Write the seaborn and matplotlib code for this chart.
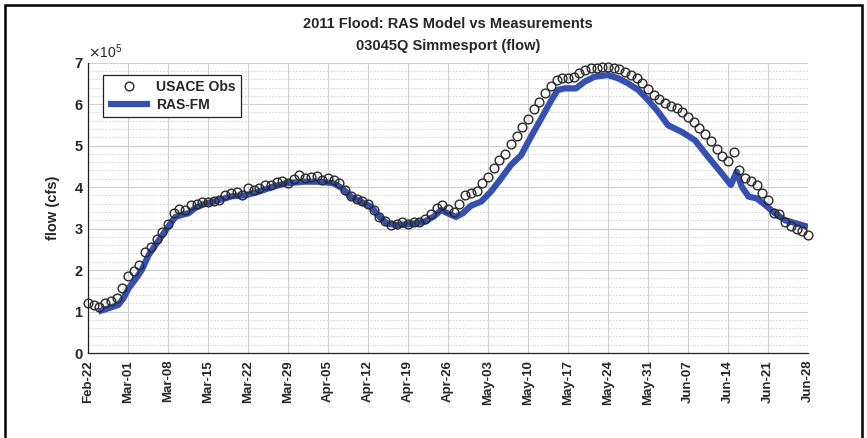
import numpy as np
import pandas as pd
import matplotlib
matplotlib.use("Agg")
import matplotlib.pyplot as plt
import matplotlib.dates as mdates
import matplotlib.ticker as mticker
import seaborn as sns

# flow in units of 1e5 cfs
start_date = "2011-02-22"
end_date = "2011-06-28"

# USACE observations, one per day from Feb-22
obs_flow = [
    1.21, 1.16, 1.12, 1.20, 1.26, 1.32, 1.56, 1.86, 1.98, 2.12,
    2.44, 2.55, 2.76, 2.92, 3.11, 3.38, 3.46, 3.45, 3.57, 3.60,
    3.65, 3.65, 3.67, 3.70, 3.80, 3.85, 3.87, 3.82, 3.97, 3.92,
    3.97, 4.04, 4.06, 4.12, 4.14, 4.10, 4.20, 4.29, 4.23, 4.25,
    4.27, 4.18, 4.23, 4.18, 4.10, 3.93, 3.78, 3.71, 3.67, 3.60,
    3.45, 3.28, 3.19, 3.08, 3.10, 3.16, 3.12, 3.17, 3.16, 3.22,
    3.36, 3.50, 3.57, 3.46, 3.40, 3.60, 3.80, 3.86, 3.90, 4.10,
    4.25, 4.45, 4.65, 4.80, 5.05, 5.22, 5.45, 5.65, 5.88, 6.06,
    6.26, 6.44, 6.58, 6.62, 6.63, 6.66, 6.76, 6.83, 6.86, 6.88,
    6.89, 6.89, 6.87, 6.84, 6.78, 6.71, 6.62, 6.52, 6.36, 6.23,
    6.12, 6.02, 5.96, 5.90, 5.80, 5.69, 5.57, 5.42, 5.29, 5.10,
    4.92, 4.76, 4.63, 4.84, 4.40, 4.22, 4.15, 4.05, 3.86, 3.70,
    3.38, 3.34, 3.15, 3.05, 2.98, 2.94, 2.84,
]

# RAS-FM model, days since Feb-22
model_day = [
    1.8, 3.6, 5.3, 6.2, 7.1, 8.2, 9.4, 10.6, 11.8, 13.2,
    14.4, 15.3, 16.4, 17.6, 18.8, 20.5, 22.8, 25.2, 27.5, 29.9,
    32.2, 34.6, 37.7, 40.7, 43.0, 44.5, 46.0, 47.7, 49.5, 51.2,
    52.4, 54.2, 56.5, 58.8, 60.6, 61.8, 62.9, 64.4, 65.6, 67.0,
    68.8, 70.5, 72.3, 74.0, 75.8, 77.5, 79.3, 81.1, 82.2, 83.4,
    85.4, 86.9, 88.6, 91.0, 92.8, 94.5, 96.3, 98.0, 99.8, 101.5,
    103.9, 106.2, 108.5, 110.9, 112.5, 113.5, 114.4, 115.6, 117.0, 118.5,
    120.2, 122.0, 124.3, 126.0,
]
model_flow = [
    1.00, 1.08, 1.16, 1.32, 1.56, 1.76, 2.00, 2.36, 2.60, 2.88,
    3.12, 3.28, 3.33, 3.37, 3.50, 3.60, 3.68, 3.78, 3.80, 3.89,
    4.00, 4.09, 4.13, 4.13, 4.09, 3.97, 3.77, 3.65, 3.53, 3.25,
    3.12, 3.08, 3.11, 3.16, 3.30, 3.45, 3.37, 3.28, 3.37, 3.55,
    3.65, 3.89, 4.21, 4.53, 4.77, 5.21, 5.65, 6.10, 6.34, 6.38,
    6.38, 6.54, 6.66, 6.70, 6.62, 6.50, 6.34, 6.10, 5.81, 5.49,
    5.33, 5.13, 4.73, 4.33, 4.05, 4.37, 4.01, 3.77, 3.73, 3.57,
    3.37, 3.20, 3.11, 3.04,
]

t0 = pd.Timestamp(start_date)
obs = pd.DataFrame({
    "date": pd.date_range(start_date, periods=len(obs_flow), freq="D"),
    "flow": np.array(obs_flow) * 1e5,
})
model = pd.DataFrame({
    "date": t0 + pd.to_timedelta(model_day, unit="D"),
    "flow": np.array(model_flow) * 1e5,
})

sns.set_style("white")
plt.rcParams["font.family"] = ["Liberation Sans", "DejaVu Sans"]

fig = plt.figure(figsize=(8.67, 4.38), dpi=100)
ax = fig.add_axes([0.1015, 0.194, 0.8305, 0.663])

line_color = "#3550b0"
sns.lineplot(data=model, x="date", y="flow", ax=ax, color=line_color,
             lw=4.5, solid_capstyle="butt", label="RAS-FM", zorder=3)
ax.plot(obs["date"], obs["flow"], ls="none", marker="o", ms=6.3,
        mfc="none", mec="#2a2a2a", mew=1.0, label="USACE Obs",
        zorder=4, clip_on=False)

ax.set_xlim(t0, pd.Timestamp(end_date))
ax.set_ylim(0, 7e5)

ax.set_xticks(pd.date_range(start_date, end_date, freq="7D"))
ax.xaxis.set_major_formatter(mdates.DateFormatter("%b-%d"))
ax.xaxis.set_minor_locator(mdates.DayLocator())
ax.yaxis.set_major_locator(mticker.MultipleLocator(1e5))
ax.yaxis.set_minor_locator(mticker.MultipleLocator(0.2e5))
fmt = mticker.ScalarFormatter(useMathText=True)
fmt.set_powerlimits((0, 0))
ax.yaxis.set_major_formatter(fmt)
ax.yaxis.get_offset_text().set_fontsize(10)

ax.tick_params(which="both", direction="in", top=False, right=False,
               color="#333333")
ax.tick_params(which="major", length=4, width=0.8)
ax.tick_params(which="minor", length=2.5, width=0.6)
ax.tick_params(axis="x", labelrotation=90, labelsize=9.5, pad=5)
ax.tick_params(axis="y", labelsize=10.5, pad=3)
for lab in ax.get_xticklabels() + ax.get_yticklabels():
    lab.set_fontweight("bold")

ax.grid(which="major", color="#cfcfcf", lw=0.8, ls="-")
ax.grid(which="minor", axis="y", color="#d0d0d0", lw=0.7, ls=(0, (1.5, 2)))
ax.grid(which="minor", axis="x", visible=False)
ax.set_axisbelow(True)
for sp in ax.spines.values():
    sp.set_visible(False)
for side in ["left", "bottom"]:
    ax.spines[side].set_visible(True)
    ax.spines[side].set_color("#222222")
    ax.spines[side].set_linewidth(0.9)

ax.set_xlabel("")
ax.set_ylabel("flow (cfs)", fontsize=10.5, fontweight="bold", labelpad=10)
ax.set_title("2011 Flood: RAS Model vs Measurements\n03045Q Simmesport (flow)",
             fontsize=10.5, fontweight="bold", pad=9, linespacing=1.7)

handles, labels = ax.get_legend_handles_labels()
order = [labels.index("USACE Obs"), labels.index("RAS-FM")]
leg = ax.legend([handles[i] for i in order], [labels[i] for i in order],
                loc="upper left", bbox_to_anchor=(0.017, 0.968),
                handlelength=3.0, fancybox=False, framealpha=1,
                edgecolor="#222222", borderpad=0.35, labelspacing=0.3,
                handletextpad=0.5, borderaxespad=0.2,
                prop={"weight": "bold", "size": 10})
leg.get_frame().set_linewidth(0.9)

# outer frame of the figure
fig.add_artist(plt.Rectangle((0.006, -0.01), 0.988, 0.999, fill=False,
                             lw=1.8, ec="black", transform=fig.transFigure))

fig.savefig("out.png", dpi=100)
